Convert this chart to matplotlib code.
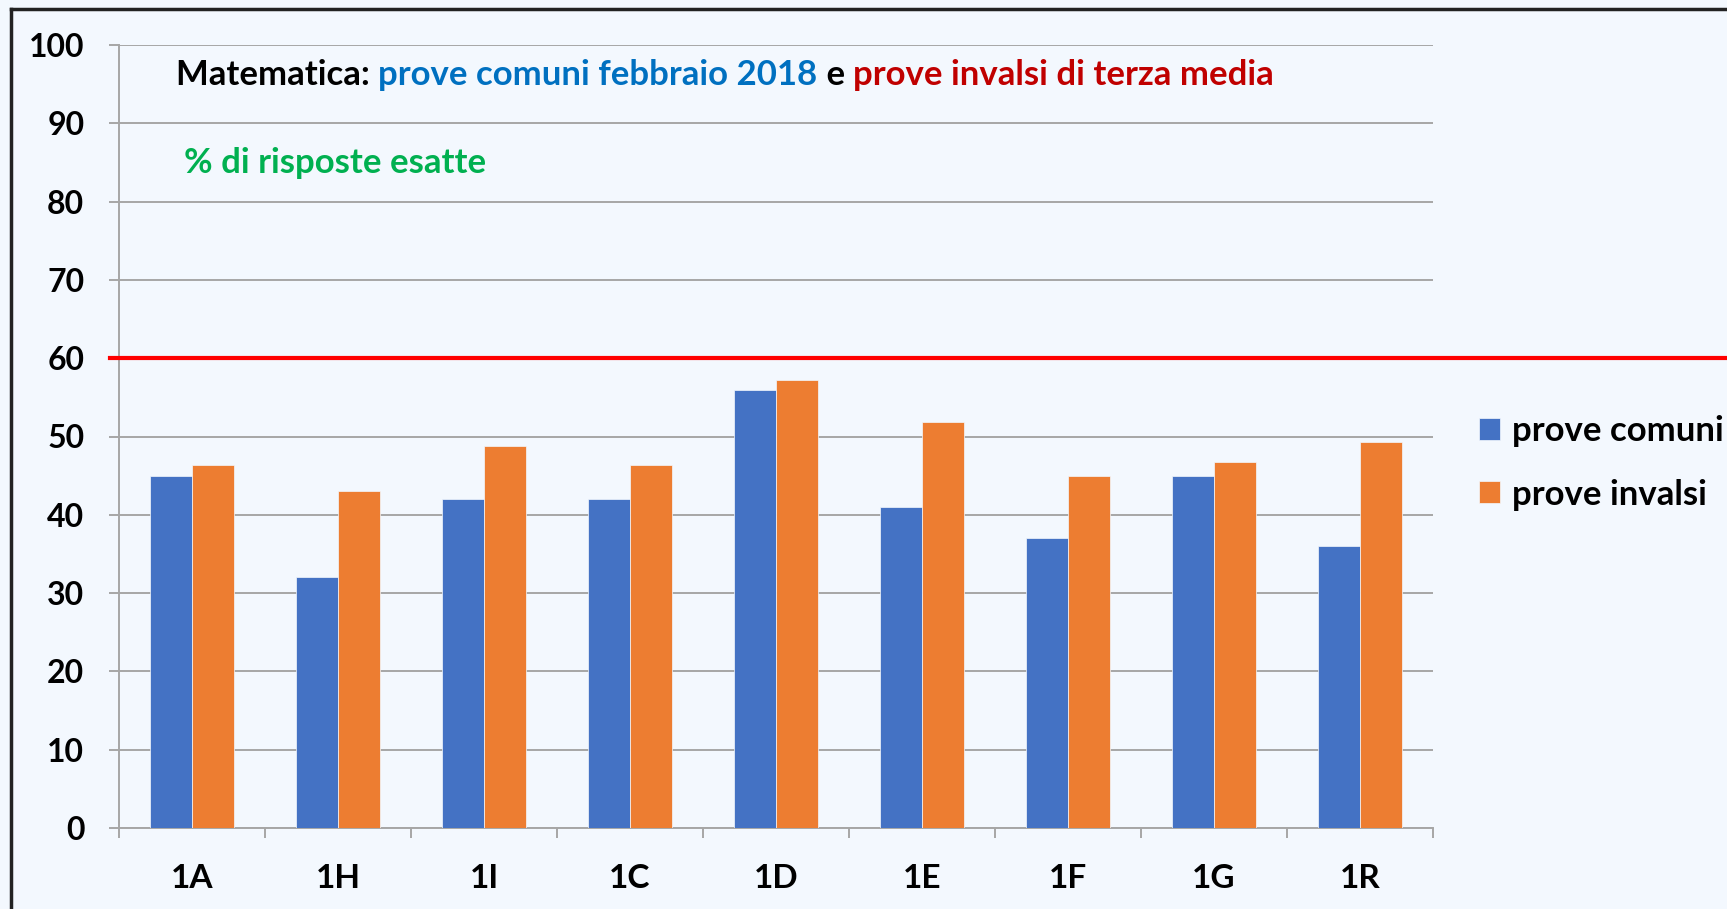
import matplotlib
matplotlib.use("Agg")
import matplotlib.pyplot as plt
from matplotlib.lines import Line2D
from matplotlib.transforms import blended_transform_factory
import numpy as np

categories = ["1A", "1H", "1I", "1C", "1D", "1E", "1F", "1G", "1R"]
prove_comuni = [45, 32, 42, 42, 56, 41, 37, 45, 36]
prove_invalsi = [46.4, 43.1, 48.8, 46.4, 57.2, 51.8, 45.0, 46.8, 49.3]
threshold = 60
yticks = list(range(0, 101, 10))

BG = "#F3F8FE"
BLUE = "#4472C4"
ORANGE = "#ED7D31"
GRID = "#A6A6A6"
FONT = "Lato"

W, H = 1727, 909
fig = plt.figure(figsize=(W / 100, H / 100), dpi=100, facecolor=BG)
ax = fig.add_axes([119 / W, 1 - 828 / H, (1433 - 119) / W, (828 - 45) / H])
ax.set_facecolor(BG)

x = np.arange(len(categories))
bw = 0.287
ax.bar(x - bw / 2, prove_comuni, width=bw, color=BLUE, edgecolor=BG, linewidth=0.5,
       label="prove comuni", zorder=3)
ax.bar(x + bw / 2, prove_invalsi, width=bw, color=ORANGE, edgecolor=BG, linewidth=0.5,
       label="prove invalsi", zorder=3)

ax.set_xlim(-0.5, len(categories) - 0.5)
ax.set_ylim(0, 100)
ax.set_yticks(yticks)
ax.set_yticklabels([str(v) for v in yticks], fontsize=23, fontweight="bold", family=FONT)
ax.yaxis.grid(True, color=GRID, linewidth=1.4, zorder=0)
ax.set_axisbelow(True)

ax.set_xticks(x)
ax.set_xticklabels(categories, fontsize=24, fontweight="bold", family=FONT)
ax.set_xticks(np.arange(-0.5, len(categories), 1.0), minor=True)
ax.tick_params(axis="x", which="major", length=0, pad=26)
ax.tick_params(axis="x", which="minor", length=7, width=1.4, color=GRID)
ax.tick_params(axis="y", length=7, width=1.4, color=GRID, pad=18)

for s in ["top", "right"]:
    ax.spines[s].set_visible(False)
for s in ["left", "bottom"]:
    ax.spines[s].set_color(GRID)
    ax.spines[s].set_linewidth(1.4)

# threshold line extending to figure right edge
tr = blended_transform_factory(fig.transFigure, ax.transData)
ax.plot([110 / W, 1.0], [threshold, threshold], transform=tr, color="#FF0000",
        linewidth=3, clip_on=False, zorder=5)

# title pieces
parts = [("Matematica: ", "black"), ("prove comuni febbraio 2018", "#0070C0"),
         (" e ", "black"), ("prove invalsi di terza media", "#C00000")]
prev = fig.text(176 / W, 1 - 75 / H, parts[0][0], color=parts[0][1], fontsize=25,
                fontweight="bold", family=FONT, va="center", ha="left")
for txt, col in parts[1:]:
    prev = ax.annotate(txt, xy=(1, 0), xycoords=prev, va="bottom", ha="left",
                       color=col, fontsize=25, fontweight="bold", family=FONT)

fig.text(184 / W, 1 - 163 / H, "% di risposte esatte", color="#00B050", fontsize=25,
         fontweight="bold", family=FONT, va="center", ha="left")

leg = fig.legend(loc="center left", bbox_to_anchor=(1479 / W, 1 - 463 / H),
                 frameon=False, prop={"family": FONT, "weight": "bold", "size": 25},
                 handlelength=0.6, handleheight=0.6, handletextpad=0.35, labelspacing=0.9,
                 borderaxespad=0, borderpad=0)

# outer frame (top and left)
fig.add_artist(Line2D([11 / W, 1.0], [1 - 9 / H, 1 - 9 / H], transform=fig.transFigure,
                      color="#222222", linewidth=2.5))
fig.add_artist(Line2D([11 / W, 11 / W], [0, 1 - 9 / H], transform=fig.transFigure,
                      color="#222222", linewidth=2.5))

fig.savefig("out.png", dpi=100, facecolor=BG)
